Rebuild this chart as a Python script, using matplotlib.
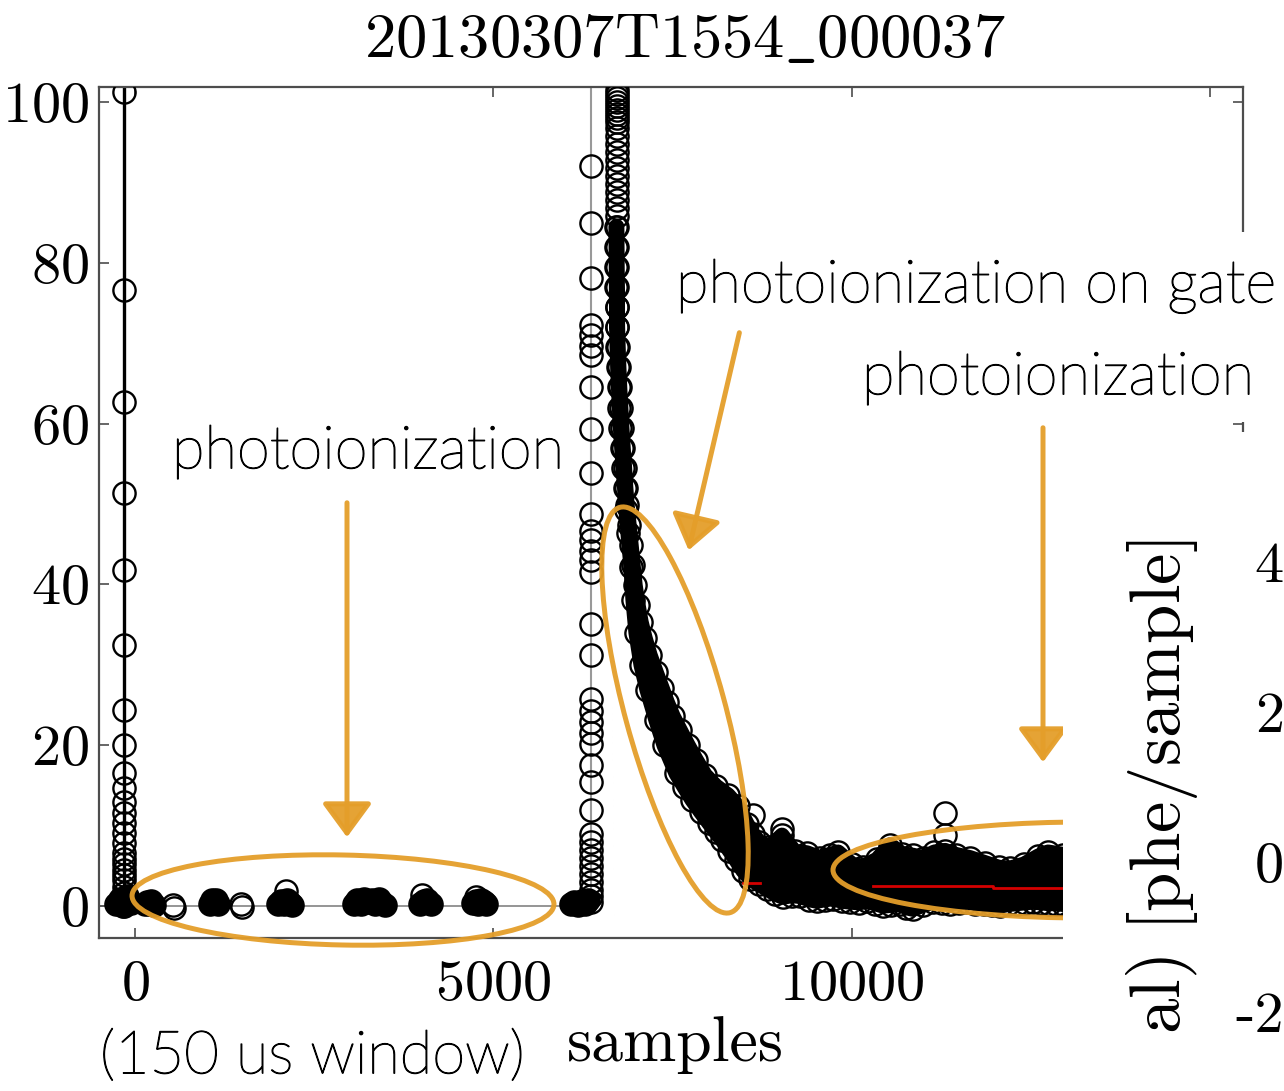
import numpy as np
import matplotlib
matplotlib.use("Agg")
import matplotlib.pyplot as plt
import matplotlib.patheffects as pe
from matplotlib.patches import Ellipse, Rectangle, FancyArrowPatch

plt.rcParams['font.family'] = 'cmr10'
plt.rcParams['mathtext.fontset'] = 'cm'
plt.rcParams['axes.formatter.use_mathtext'] = True

# ---- waveform data (samples, phe/sample) ----
# S1-like pulse just before the window start
s1_x = -153
s1_y = [180, 101.2, 76.6, 62.7, 51.4, 41.8, 32.5, 24.4, 20.0, 16.5, 14.7, 12.9,
        11.6, 10.3, 9.1, 7.8, 6.6, 5.9, 5.2, 4.5, 3.9, 3.2, 2.4, 1.6, 0.8, 0.0]

# pulse at the gate
s2_x = 6365
s2_y = [180, 92.1, 84.9, 78.1, 72.3, 71.0, 69.7, 68.5, 64.5, 59.3, 53.9, 48.8,
        46.7, 45.5, 44.2, 43.0, 41.5, 35.1, 31.2, 25.7, 24.3, 22.9, 21.5, 20.1,
        17.5, 15.4, 12.0, 9.0, 8.0, 7.0, 6.0, 5.0, 4.0, 3.0, 2.0, 1.2, 0.5]

# photoionization clusters on the baseline (overlapping samples)
clus_x = [-260, -210, -170, -110, -60,
          140, 170, 200, 230, 260,
          1040, 1070, 1100, 1130, 1160,
          2000, 2040, 2080, 2120, 2160, 2190,
          3060, 3100, 3150, 3200, 3250, 3300, 3350, 3400, 3450, 3490,
          3970, 4030, 4070, 4130,
          4710, 4750, 4790, 4830, 4870, 4900,
          6080, 6130, 6180, 6230, 6280, 6320]
clus_y = [0.2, 0.9, 0.0, 1.2, 0.4,
          0.2, 0.5, 0.3, 0.6, 0.1,
          0.3, 0.7, 0.5, 0.8, 0.2,
          0.2, 0.6, 0.3, 0.8, 0.4, 0.1,
          0.3, 0.8, 0.2, 0.9, 0.5, 0.7, 0.2, 0.9, 0.4, 0.1,
          0.3, 0.6, 0.8, 0.2,
          0.4, 0.6, 0.3, 0.7, 0.5, 0.2,
          0.2, 0.5, 0.1, 0.6, 0.3, 0.8]
# single samples standing out
lone_x = [535, 548, 1480, 1495, 2100, 4010, 4760]
lone_y = [0.1, -0.3, 0.2, -0.1, 1.9, 1.4, 1.1]
baseline_x = [-502, 6365]
baseline_y = [0, 0]

# top of the S2 column
col_x = 6718
col_y = [101.5, 101.0, 100.5, 100.0, 99.5, 99.0, 98.5, 98.0, 97.5,
         96.8, 95.8, 94.8, 93.8, 92.8, 91.8, 90.8, 89.8, 88.8, 87.8, 86.8, 85.8]

# envelope of the dense S2 tail + photoionization tail (upper / lower sample values)
up_x = [6720, 6722, 6724, 6726, 6728, 6730, 6738, 6748, 6760, 6775, 6790, 6808, 6828, 6845,
        6863, 6891, 6919, 6947, 6975, 7017, 7059, 7115, 7184, 7268, 7352, 7421, 7505,
        7603, 7714, 7826, 7952, 8105, 8272, 8412,
        8537, 8620, 8700, 8850, 9025, 9200, 9374, 9550, 9700, 9807, 10000, 10156, 10350,
        10532, 10700, 10850, 11000, 11150, 11300, 11450, 11648, 11850, 12050, 12206,
        12400, 12600, 12736, 12950]
up_y = [84.5, 82.0, 79.5, 77.0, 74.5, 72.0, 69.5, 67.0, 64.5, 62.0, 59.5, 57.0, 54.5, 52.0,
        49.9, 47.4, 44.9, 42.4, 39.9, 37.4, 35.3, 33.3, 31.2, 29.1, 27.1, 25.4, 23.6,
        21.9, 20.0, 18.2, 16.3, 14.9, 13.8, 12.4,
        10.2, 9.0, 8.0, 7.3, 8.8, 6.8, 6.6, 6.0, 6.4, 6.7, 5.2, 4.9, 5.8,
        7.6, 6.5, 6.3, 6.0, 6.7, 6.9, 6.4, 6.0, 5.4, 4.8, 4.7,
        5.2, 6.2, 6.7, 6.4]
lo_x = [6710, 6712, 6714, 6716, 6718, 6720, 6726, 6734, 6745, 6758, 6772, 6790, 6810, 6830,
        6849, 6877, 6919, 6947, 6989, 7059, 7142, 7268, 7380, 7547, 7660, 7770, 7890,
        8007, 8100, 8188, 8290, 8384, 8480, 8579, 8700, 8816, 8930, 9039, 9160, 9276,
        9400, 9513, 9625, 9737, 9860, 9974, 10100, 10211, 10320, 10435, 10550, 10672,
        10760, 10853, 10990, 11132, 11250, 11370, 11490, 11606, 11720, 11840, 11950,
        12067, 12180, 12300, 12410, 12527, 12640, 12750, 12850, 12950]
lo_y = [84.5, 82.0, 79.5, 77.0, 74.5, 72.0, 69.5, 67.0, 64.5, 62.0, 59.5, 57.0, 54.5, 52.0,
        49.3, 46.4, 42.2, 38.1, 34.0, 30.0, 26.9, 23.1, 20.0, 16.5, 14.8, 13.2, 11.7,
        10.3, 9.2, 8.2, 6.9, 5.7, 4.4, 3.4, 2.7, 2.1, 1.5, 1.1, 1.3, 1.2,
        0.8, 0.6, 0.8, 0.9, 0.6, 0.5, 0.4, 0.6, 0.3, 0.0, 0.1, 0.2,
        -0.2, -0.4, 0.1, 0.5, 0.4, 0.3, 0.4, 0.5, 0.3, 0.2, 0.1,
        0.0, 0.2, 0.3, 0.4, 0.5, 0.4, 0.3, 0.3, 0.2]

# isolated high samples in the tail
out_x = [8620, 9025, 11300, 11300]
out_y = [11.3, 9.6, 11.6, 8.8]

# running baseline estimate
red_x = [8480, 8720, np.nan, 10290, 11970, 11970, 12950]
red_y = [2.8, 2.8, np.nan, 2.5, 2.5, 2.2, 2.2]

# cut-off neighbouring panel ticks
side_ticks = [-2, 0, 2, 4]
side_labels = ['-2', '0', '2', '4']

W, H = 1284, 1091
fig = plt.figure(figsize=(W / 100, H / 100), dpi=100)
ax = fig.add_axes([99 / W, 1 - 938 / H, 1144 / W, 851 / H])

ring = dict(ls='none', marker='o', mfc='none', mec='k', ms=16, mew=1.7)

ax.plot(baseline_x, baseline_y, color='0.55', lw=1.3, zorder=1)
ax.plot([s2_x] * len(s2_y), s2_y, color='0.6', lw=1.5, zorder=1)
ax.plot([s1_x] * len(s1_y), s1_y, color='k', lw=2.4, zorder=2)

ax.plot([s1_x] * len(s1_y), s1_y, zorder=3, **ring)
ax.plot([s2_x] * len(s2_y), s2_y, zorder=3, **ring)
ax.plot(clus_x, clus_y, ls='none', marker='o', mfc='k', mec='k', ms=16, mew=1.7, zorder=3)
ax.plot(lone_x, lone_y, zorder=3, **ring)
ax.plot([col_x] * len(col_y), col_y, zorder=3, **ring)

env_x = np.r_[up_x, lo_x[::-1]]
env_y = np.r_[up_y, lo_y[::-1]]
ax.fill(env_x, env_y, facecolor='k', edgecolor='k', lw=11, joinstyle='round', zorder=3)
ax.plot(up_x, up_y, zorder=3, **ring)
ax.plot(lo_x, lo_y, zorder=3, **ring)
ax.plot(out_x, out_y, zorder=3, **ring)
ax.plot(red_x, red_y, color='#d40000', lw=2, zorder=4)

ax.set_xlim(-502, 15455)
ax.set_ylim(-3.98, 101.87)
ax.set_xticks([0, 5000, 10000, 15000])
ax.set_yticks([0, 20, 40, 60, 80, 100])
ax.tick_params(direction='in', length=7, width=1.2, top=True, right=True,
               labelsize=42, color='0.3')
ax.tick_params(axis='y', pad=7)
ax.tick_params(axis='x', pad=16)
for sp in ax.spines.values():
    sp.set_linewidth(1.6)
    sp.set_color('0.3')

fig.text(685 / W, 1 - 41 / H, r'$\mathrm{20130307T1554\_000037}$',
         fontsize=45, ha='center', va='center')
fig.text(675 / W, 1 - 1045 / H, 'samples', fontsize=46, ha='center', va='center')

# hand-drawn annotations in pixel space
ov = fig.add_axes([0, 0, 1, 1], zorder=5)
ov.set_xlim(0, W)
ov.set_ylim(H, 0)
ov.set_axis_off()

orange = '#e49e2a'
brush = dict(fill=False, ec=orange, lw=3.6, alpha=0.95)
ov.add_patch(Ellipse((343, 900), 422, 90, angle=1.2, **brush))
ov.add_patch(Ellipse((675, 710), 420, 100, angle=74.8, **brush))
ov.add_patch(Ellipse((1085, 870), 504, 96, angle=0, **brush))

for (x0, y0), (x1, y1) in [((347, 500), (347, 840)),
                           ((740, 330), (688, 553)),
                           ((1043, 425), (1043, 765))]:
    ov.add_patch(FancyArrowPatch((x0, y0), (x1, y1),
                                 arrowstyle='-|>,head_length=0.75,head_width=0.55',
                                 mutation_scale=28, color=orange, lw=3.6, alpha=0.95))

# overlapping neighbour panel covers the right side
ov.add_patch(Rectangle((1063, 232), W - 1063, 190, fc='white', ec='none', zorder=6))
ov.add_patch(Rectangle((1063, 432), W - 1063, H - 432, fc='white', ec='none', zorder=6))

note = dict(family=['Lato', 'DejaVu Sans'], fontweight='light', fontsize=43,
            color='black', ha='left', va='center', zorder=7,
            path_effects=[pe.withStroke(linewidth=0.9, foreground='black')])
ov.text(172, 452, 'photoionization', **note)
ov.text(676, 286, 'photoionization on gate', **note)
ov.text(862, 378, 'photoionization', **note)
ov.text(100, 1057, '(150 us window)', **note)

ov.text(1162, 540, r'$\mathrm{al)\ [phe/sample]}$', rotation=90, rotation_mode='anchor',
        ha='right', va='center', fontsize=51, zorder=7)

# neighbouring panel, mostly outside the canvas
ax2 = fig.add_axes([1295 / W, 0, 0.3, (H - 432) / H], zorder=10)
ax2.patch.set_visible(False)
ax2.set_ylim(-3.05, 5.73)
ax2.set_yticks(side_ticks)
ax2.set_yticklabels(side_labels)
ax2.set_xticks([])
ax2.tick_params(axis='y', direction='in', length=0, labelsize=42, pad=8)
for sp in ax2.spines.values():
    sp.set_visible(False)

fig.savefig('out.png', dpi=100)
